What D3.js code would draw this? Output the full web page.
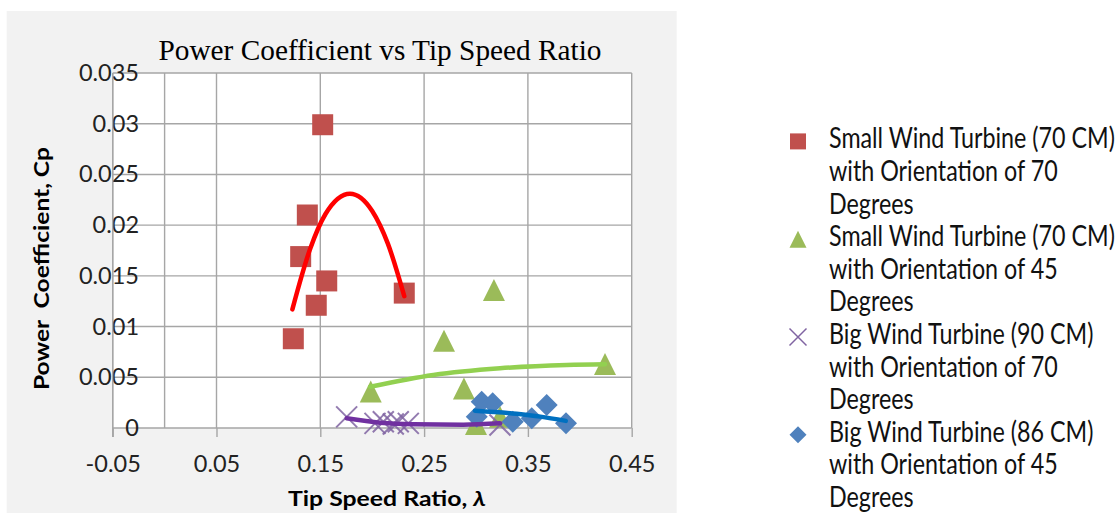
<!DOCTYPE html>
<html>
<head>
<meta charset="utf-8">
<script src="https://cdn.jsdelivr.net/npm/d3@7"></script>
<style>
    body { margin: 0; background: #fff; }
    text { font-family: Lato, "Open Sans", sans-serif; fill: #000; }
</style>
</head>
<body>
<svg width="1120" height="514"></svg>
<script>
// values
const xTicks = [-0.05, 0.05, 0.15, 0.25, 0.35, 0.45]
const yTicks = [0, 0.005, 0.01, 0.015, 0.02, 0.025, 0.03, 0.035]

const small70 = [[0.1523, 0.0299], [0.1375, 0.0210], [0.1311, 0.0169], [0.1562, 0.0145],
    [0.1461, 0.0121], [0.1240, 0.0088], [0.2309, 0.0133]]
const small45 = [[0.3173, 0.0136], [0.2692, 0.0086], [0.2884, 0.0039], [0.1986, 0.0036],
    [0.4243, 0.0063], [0.3231, 0.0011], [0.3000, 0.0004]]
const big90 = [[0.1754, 0.0011], [0.2027, 0.00046], [0.2107, 0.00062], [0.2203, 0.00039],
    [0.2251, 0.00062], [0.2348, 0.00046], [0.3231, 0.0003]]
const big86 = [[0.3055, 0.0026], [0.3161, 0.00244], [0.3007, 0.00111], [0.3354, 0.00062],
    [0.3537, 0.00096], [0.3681, 0.00227], [0.3867, 0.00046]]

// trend lines as drawn in the picture
const small70Trend = [[0.1231, 0.0117], [0.14, 0.0176], [0.155, 0.0211], [0.1786, 0.0231],
    [0.20, 0.0214], [0.215, 0.0182], [0.2309, 0.0130]]
const small45Trend = [[0.198, 0.00407], [0.2589, 0.00523], [0.3232, 0.00589], [0.3874, 0.00621], [0.4243, 0.00628]]
const big90Trend = [[0.1754, 0.00096], [0.2075, 0.00052], [0.2396, 0.00036], [0.2878, 0.00033], [0.3231, 0.00046]]
const big86Trend = [[0.299, 0.0017], [0.339, 0.0014], [0.362, 0.00112], [0.3865, 0.0007]]

const legendLabels = [
    ["Small Wind Turbine (70 CM)", "with Orientation of 70", "Degrees"],
    ["Small Wind Turbine (70 CM)", "with Orientation of 45", "Degrees"],
    ["Big Wind Turbine (90 CM)", "with Orientation of 70", "Degrees"],
    ["Big Wind Turbine (86 CM)", "with Orientation of 45", "Degrees"]
]

const svg = d3.select("svg")
const plot = {left: 112.7, right: 631.7, top: 73, bottom: 428}

const x = d3.scaleLinear().domain([-0.05, 0.45]).range([plot.left, plot.right])
const y = d3.scaleLinear().domain([0, 0.035]).range([plot.bottom, plot.top])

// marker shapes
const triangle = {draw(ctx, size) {
    const s = Math.sqrt(size) / 2
    ctx.moveTo(0, -s); ctx.lineTo(s, s); ctx.lineTo(-s, s); ctx.closePath()
}}
const diamond = {draw(ctx, size) {
    const s = Math.sqrt(size) / 2
    ctx.moveTo(0, -s); ctx.lineTo(s, 0); ctx.lineTo(0, s); ctx.lineTo(-s, 0); ctx.closePath()
}}
const cross = {draw(ctx, size) {
    const s = Math.sqrt(size) / 2
    ctx.moveTo(-s, -s); ctx.lineTo(s, s); ctx.moveTo(s, -s); ctx.lineTo(-s, s)
}}

const series = [
    {points: small70, trend: small70Trend, shape: d3.symbolSquare, size: 21, color: "#c0504d", line: "#ff0000", label: legendLabels[0]},
    {points: small45, trend: small45Trend, shape: triangle, size: 22, color: "#9bbb59", line: "#92d050", label: legendLabels[1]},
    {points: big90, trend: big90Trend, shape: cross, size: 21, color: "#8064a2", line: "#7030a0", label: legendLabels[2], stroke: true},
    {points: big86, trend: big86Trend, shape: diamond, size: 22, color: "#4f81bd", line: "#0070c0", label: legendLabels[3]}
]

// chart area
svg.append("rect")
    .attr("x", 6.7).attr("y", 11)
    .attr("width", 670).attr("height", 502)
    .style("fill", "#f2f2f2")

svg.append("rect")
    .attr("x", plot.left).attr("y", plot.top)
    .attr("width", plot.right - plot.left).attr("height", plot.bottom - plot.top)
    .style("fill", "#fff")

// grid
const gridColor = "#a6a6a6"
svg.append("g")
    .selectAll("line.hgrid")
    .data(yTicks)
    .enter()
    .append("line")
    .attr("class", "hgrid")
    .attr("x1", plot.left).attr("x2", plot.right)
    .attr("y1", d => y(d)).attr("y2", d => y(d))
    .style("stroke", gridColor).style("stroke-width", 1.4)

svg.append("g")
    .selectAll("line.vgrid")
    .data(xTicks.concat([0]))
    .enter()
    .append("line")
    .attr("class", "vgrid")
    .attr("x1", d => x(d)).attr("x2", d => x(d))
    .attr("y1", plot.top).attr("y2", plot.bottom)
    .style("stroke", gridColor).style("stroke-width", 1.4)

// axes
const xAxis = svg.append("g")
    .attr("transform", `translate(0, ${plot.bottom})`)
    .call(d3.axisBottom(x).tickValues(xTicks).tickSize(9).tickPadding(18).tickFormat(d => String(d)))
xAxis.select(".domain").remove()
xAxis.selectAll("line").style("stroke", gridColor).style("stroke-width", 1.4)
xAxis.selectAll("text").style("font-size", "23.5px").style("font-family", "Lato, sans-serif").style("fill", "#222")

const yAxis = svg.append("g")
    .attr("transform", `translate(${plot.left}, 0)`)
    .call(d3.axisLeft(y).tickValues(yTicks).tickSize(0).tickPadding(-26.3).tickFormat(d => String(d)))
yAxis.select(".domain").remove()
yAxis.selectAll("text").style("font-size", "23.5px").style("font-family", "Lato, sans-serif").style("fill", "#222")

svg.append("line")
    .attr("x1", plot.left).attr("x2", plot.left)
    .attr("y1", plot.top).attr("y2", plot.bottom + 9)
    .style("stroke", gridColor).style("stroke-width", 1.4)

// markers
const symbol = d3.symbol()
series.forEach(s => {
    svg.append("g")
        .selectAll("path.marker")
        .data(s.points)
        .enter()
        .append("path")
        .attr("class", "marker")
        .attr("transform", d => `translate(${x(d[0])}, ${y(d[1])})`)
        .attr("d", symbol.type(s.shape).size(s.size * s.size)())
        .style("fill", s.stroke ? "none" : s.color)
        .style("stroke", s.stroke ? s.color : "none")
        .style("stroke-width", 2)
        .style("opacity", s.stroke ? 0.85 : 1)
})

// trend lines
const trendLine = d3.line()
    .x(d => x(d[0]))
    .y(d => y(d[1]))
    .curve(d3.curveMonotoneX)

series.forEach(s => {
    svg.append("path")
        .attr("d", trendLine(s.trend))
        .style("fill", "none")
        .style("stroke", s.line)
        .style("stroke-width", 4.5)
        .style("stroke-linecap", "round")
})

// titles
svg.append("text")
    .text("Power Coefficient vs Tip Speed Ratio")
    .attr("x", 380).attr("y", 60)
    .attr("text-anchor", "middle")
    .attr("textLength", 443)
    .attr("lengthAdjust", "spacingAndGlyphs")
    .style("font-family", "'Liberation Serif', 'Times New Roman', serif")
    .style("font-size", "30px")

const xTitle = svg.append("text")
    .attr("x", 387).attr("y", 506)
    .attr("text-anchor", "middle")
    .attr("textLength", 198)
    .attr("lengthAdjust", "spacingAndGlyphs")
    .style("font-weight", "bold")
    .style("font-size", "21px")
xTitle.append("tspan").text("Tip Speed Ratio, ")
xTitle.append("tspan").text("λ").style("font-style", "italic")

svg.append("text")
    .text("Power  Coefficient, Cp")
    .attr("transform", "translate(49, 268.5) rotate(-90)")
    .attr("text-anchor", "middle")
    .attr("textLength", 243)
    .attr("lengthAdjust", "spacingAndGlyphs")
    .style("white-space", "pre")
    .style("font-weight", "bold")
    .style("font-size", "21px")

// legend
const legend = svg.append("g").attr("id", "legend")
const entryStep = 97.8
const lineStep = 32.6

const entries = legend.selectAll("g.entry")
    .data(series)
    .enter()
    .append("g")
    .attr("class", "entry")
    .attr("transform", (d, i) => `translate(0, ${148.4 + i * entryStep})`)

entries.append("path")
    .attr("transform", "translate(798, -7)")
    .attr("d", d => d3.symbol().type(d.shape).size(d.shape === d3.symbolSquare ? 256 : 289)())
    .style("fill", d => d.stroke ? "none" : d.color)
    .style("stroke", d => d.stroke ? d.color : "none")
    .style("stroke-width", 1.5)

const labelTexts = entries.selectAll("text")
    .data(d => d.label)
    .enter()
    .append("text")
    .text(d => d)
    .style("font-size", "28px")
    .style("fill", "#111")

// squeeze the legend text to the narrow face used in the picture
const natural = labelTexts.node().getComputedTextLength()
const squeeze = 286 / natural
labelTexts.attr("transform", (d, i) => `translate(829, ${i * lineStep}) scale(${squeeze}, 1)`)
</script>
</body>
</html>
